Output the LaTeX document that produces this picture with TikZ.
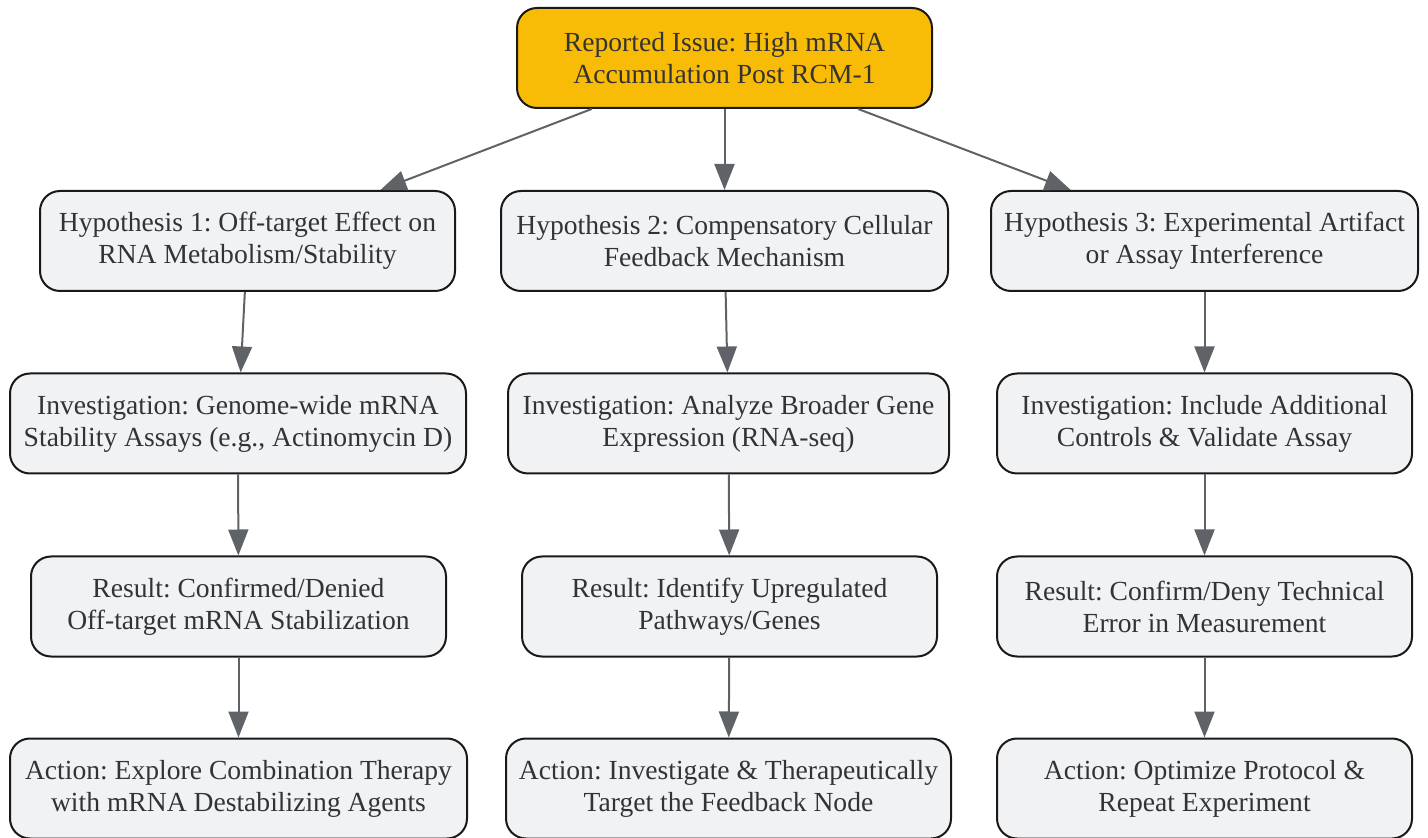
\documentclass[tikz,border=0pt]{standalone}
\usepackage{fontspec}
\setmainfont{Liberation Serif}
\usetikzlibrary{arrows.meta}
\definecolor{issue}{HTML}{F9BC06}
\definecolor{boxfill}{HTML}{F1F2F4}
\definecolor{edgegray}{HTML}{5F6368}
\definecolor{txt}{HTML}{333333}
\tikzset{
  box/.style={draw=black!90, line width=1pt, fill=boxfill, rounded corners=10pt,
    align=center, inner xsep=0pt, minimum height=50pt, text=txt,
    font=\fontsize{13.8}{16}\selectfont\frenchspacing},
  flow/.style={color=edgegray, line width=1pt,
    -{Triangle[width=10pt,length=13pt]}}
}
\begin{document}
\begin{tikzpicture}[x=0.5pt,y=-0.5pt]
  \useasboundingbox (0,0) rectangle (1428,838);
  \node[box, fill=issue, minimum width=207.5pt] (issue) at (724.5,58)
     {Reported Issue: High mRNA\\Accumulation Post RCM-1};
  % hypotheses
  \node[box, minimum width=207.5pt] (h1) at (247.5,241)
     {Hypothesis 1: Off-target Effect on\\RNA Metabolism/Stability};
  \node[box, minimum width=223.5pt] (h2) at (724.5,241)
     {Hypothesis 2: Compensatory Cellular\\Feedback Mechanism};
  \node[box, minimum width=213.5pt] (h3) at (1204.5,241)
     {Hypothesis 3: Experimental Artifact\\or Assay Interference};
  % investigations
  \node[box, minimum width=228pt] (i1) at (238,423.5)
     {Investigation: Genome-wide mRNA\\Stability Assays (e.g., Actinomycin D)};
  \node[box, minimum width=220.5pt] (i2) at (728.5,423.5)
     {Investigation: Analyze Broader Gene\\Expression (RNA-seq)};
  \node[box, minimum width=207.5pt] (i3) at (1204.5,423.5)
     {Investigation: Include Additional\\Controls \& Validate Assay};
  % results
  \node[box, minimum width=207.5pt] (r1) at (238.5,606.5)
     {Result: Confirmed/Denied\\Off-target mRNA Stabilization};
  \node[box, minimum width=207.5pt] (r2) at (729.5,606.5)
     {Result: Identify Upregulated\\Pathways/Genes};
  \node[box, minimum width=207.5pt] (r3) at (1204.5,606.5)
     {Result: Confirm/Deny Technical\\Error in Measurement};
  % actions
  \node[box, minimum width=228.5pt] (a1) at (238.5,788.5)
     {Action: Explore Combination Therapy\\with mRNA Destabilizing Agents};
  \node[box, minimum width=222.5pt] (a2) at (728.5,788.5)
     {Action: Investigate \& Therapeutically\\Target the Feedback Node};
  \node[box, minimum width=207.5pt] (a3) at (1204.5,788.5)
     {Action: Optimize Protocol \&\\Repeat Experiment};
  \path[flow]
    (issue) edge (h1)
    (issue) edge (h2)
    (issue) edge (h3)
    (h1) edge (i1) (i1) edge (r1) (r1) edge (a1)
    (h2) edge (i2) (i2) edge (r2) (r2) edge (a2)
    (h3) edge (i3) (i3) edge (r3) (r3) edge (a3);
\end{tikzpicture}
\end{document}
